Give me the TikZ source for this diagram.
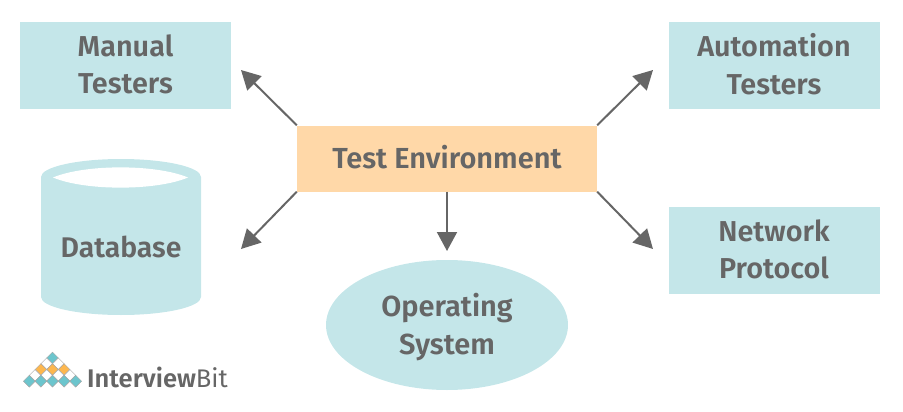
\documentclass[tikz,border=0pt]{standalone}
\usepackage{fontspec}
\setmainfont{Fira Sans}[UprightFont=* SemiBold,BoldFont=* SemiBold]
\usetikzlibrary{arrows.meta,shapes.geometric}
\definecolor{boxteal}{HTML}{C4E6E9}
\definecolor{boxorange}{HTML}{FFD8A8}
\definecolor{inkgrey}{HTML}{666666}
\definecolor{logoteal}{HTML}{6CC5CD}
\definecolor{logoorange}{HTML}{FDB74F}
\tikzset{
  tealbox/.style={fill=boxteal, minimum width=211pt, minimum height=87pt, align=center, text=inkgrey, text depth=3pt, font=\fontsize{28.8}{37.5}\selectfont},
  flowarrow/.style={draw=inkgrey, line width=2pt, -{Triangle[length=19pt,width=20pt]}},
  logotile/.style={diamond, draw=gray!70, line width=0.5pt, minimum size=12pt, inner sep=0pt}
}
\begin{document}
\begin{tikzpicture}[x=1pt, y=-1pt]
  \useasboundingbox (0, 0) rectangle (903, 412);

  % -- Center box --
  \node[fill=boxorange, minimum width=300pt, minimum height=66pt, text=inkgrey, text height=22pt, text depth=3pt, inner ysep=0pt, font=\fontsize{29}{34}\selectfont] (env) at (447, 158.5) {Test Environment};

  % -- Corner boxes --
  \node[tealbox] (manual) at (125.5, 65.5) {Manual\\Testers};
  \node[tealbox] (auto) at (774, 65.5) {Automation\\Testers};
  \node[tealbox] (network) at (774, 250.5) {Network\\Protocol};

  % -- Database cylinder --
  \fill[boxteal] (41, 177) arc[x radius=80, y radius=18, start angle=180, end angle=360] -- (201, 297) arc[x radius=80, y radius=18, start angle=0, end angle=180] -- cycle;
  \fill[white] (53, 177.5) .. controls (85, 164) and (156, 164) .. (188, 177.5) .. controls (156, 191) and (85, 191) .. (53, 177.5) -- cycle;
  \node[text=inkgrey, text height=22pt, text depth=3pt, inner ysep=0pt, font=\fontsize{28.4}{34}\selectfont] (db) at (121, 248) {Database};

  % -- Ellipse --
  \node[ellipse, fill=boxteal, minimum width=242pt, minimum height=130pt, inner sep=0pt, align=center, text=inkgrey, text depth=2pt, font=\fontsize{29}{38}\selectfont] (os) at (447, 325) {Operating\\System};

  % -- Arrow ends --
  \coordinate (manualend) at (241, 70);
  \coordinate (autoend) at (653, 70);
  \coordinate (dbend) at (241, 249);
  \coordinate (netend) at (653, 249);
  \coordinate (osend) at (447, 251);

  % -- Arrows --
  \draw[flowarrow] (env.north west) -- (manualend);
  \draw[flowarrow] (env.north east) -- (autoend);
  \draw[flowarrow] (env.south west) -- (dbend);
  \draw[flowarrow] (env.south east) -- (netend);
  \draw[flowarrow] (env.south) -- (osend);

  % -- Logo --
  \foreach \row/\col/\tint in {0/0/logoteal,
    1/-1/white, 1/1/white,
    2/-2/logoorange, 2/0/logoorange, 2/2/logoorange,
    3/-3/white, 3/-1/white, 3/1/white, 3/3/white,
    4/-4/logoteal, 4/-2/logoteal, 4/0/logoteal, 4/2/logoteal, 4/4/logoteal}
    \node[logotile, fill=\tint] at (52.5+5.8*\col, 358+5.8*\row) {};
  \node[anchor=west, inner sep=0pt, text=inkgrey, font=\fontsize{25.5}{30}\selectfont] (brand) at (87, 377) {Interview{\fontspec{Fira Sans}Bit}};
\end{tikzpicture}
\end{document}
